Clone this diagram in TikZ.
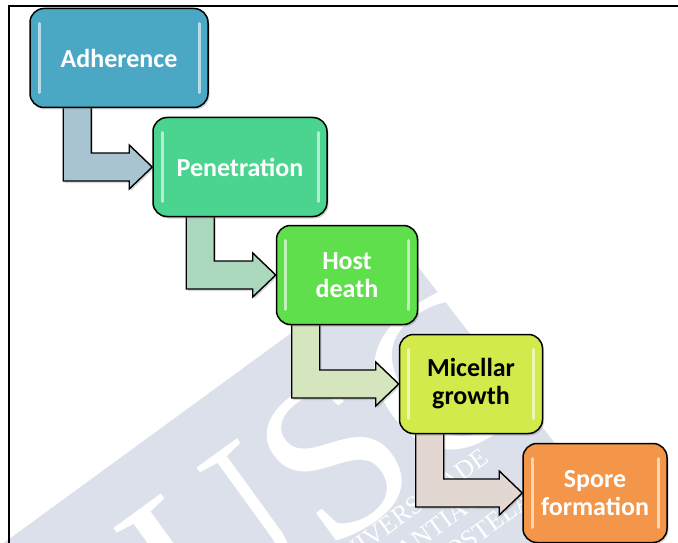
\documentclass[tikz,border=0pt]{standalone}
\usepackage{fontspec}
\setmainfont{Carlito}
\newfontfamily\wmfont{Liberation Serif}
\usetikzlibrary{calc,shadows,backgrounds}
\definecolor{adhblue}{HTML}{4BA8C4}
\definecolor{penmint}{HTML}{4BD48F}
\definecolor{hostgreen}{HTML}{5EDF4B}
\definecolor{growlime}{HTML}{D4EA4C}
\definecolor{sporeorange}{HTML}{F3964A}
\definecolor{arrblue}{HTML}{A9C4D1}
\definecolor{arrmint}{HTML}{ABD8BD}
\definecolor{arrsage}{HTML}{D5E6BE}
\definecolor{arrrose}{HTML}{E3D7D2}
\definecolor{wmgrey}{HTML}{DCE0EB}
\newcommand{\bentarrow}[4]{%
\draw[bent,fill=#4] let \p1=(#1.south west), \p2=(#2.west) in
(\x1+#3-14pt,\y1+2pt) -- (\x1+#3-14pt,\y2-14pt) -- (\x2-23pt,\y2-14pt) -- (\x2-23pt,\y2-22pt) -- (\p2)
-- (\x2-23pt,\y2+22pt) -- (\x2-23pt,\y2+14pt) -- (\x1+#3+14pt,\y2+14pt) -- (\x1+#3+14pt,\y1+2pt) -- cycle;}

\begin{document}
\begin{tikzpicture}[x=1pt,y=-1pt,
stagebox/.style={draw=black,line width=1.5pt,rounded corners=14pt,minimum height=99pt,align=center,text=white,
 font=\fontsize{26}{28}\selectfont\bfseries,drop shadow={opacity=.35,shadow xshift=1.5pt,shadow yshift=-2pt},
 path picture={\draw[white,opacity=.6,line width=3pt,line cap=round]
 ([xshift=9pt,yshift=-15pt]path picture bounding box.north west) -- ([xshift=9pt,yshift=15pt]path picture bounding box.south west)
 ([xshift=-9pt,yshift=-15pt]path picture bounding box.north east) -- ([xshift=-9pt,yshift=15pt]path picture bounding box.south east);}},
bent/.style={draw=black,line width=1.4pt,line join=miter,drop shadow={opacity=.3,shadow xshift=1.5pt,shadow yshift=-2pt}}]
\useasboundingbox (0,0) rectangle (678,543);
\begin{scope}[on background layer]
\fill[wmgrey] (-10,553) -- (405,250) -- (640,553) -- cycle;
\node[rotate=36,text=white,font=\wmfont\fontsize{225}{225}\selectfont] (usc) at (330,462) {USC};
\node[rotate=36,text=white,font=\wmfont\fontsize{26}{30}\selectfont,align=center] (univ) at (425,535) {UNIVERSIDADE\\DE SANTIAGO\\DE COMPOSTELA};
\end{scope}
\draw[line width=2pt] (9,543) -- (9,6) -- (678,6);
\node[stagebox,fill=adhblue,minimum width=178pt] (adherence) at (119,58) {Adherence};
\node[stagebox,fill=penmint,minimum width=174pt] (penetration) at (240,167) {Penetration};
\node[stagebox,fill=hostgreen,minimum width=141pt] (hostdeath) at (347,275) {Host\\death};
\node[stagebox,fill=growlime,text=black,minimum width=143pt] (growth) at (471,384) {Micellar\\growth};
\node[stagebox,fill=sporeorange,minimum width=144pt] (spore) at (595,493) {Spore\\formation};
\begin{scope}[on background layer]
\bentarrow{adherence}{penetration}{48pt}{arrblue}
\bentarrow{penetration}{hostdeath}{48pt}{arrmint}
\bentarrow{hostdeath}{growth}{30pt}{arrsage}
\bentarrow{growth}{spore}{31pt}{arrrose}
\end{scope}
\end{tikzpicture}
\end{document}
